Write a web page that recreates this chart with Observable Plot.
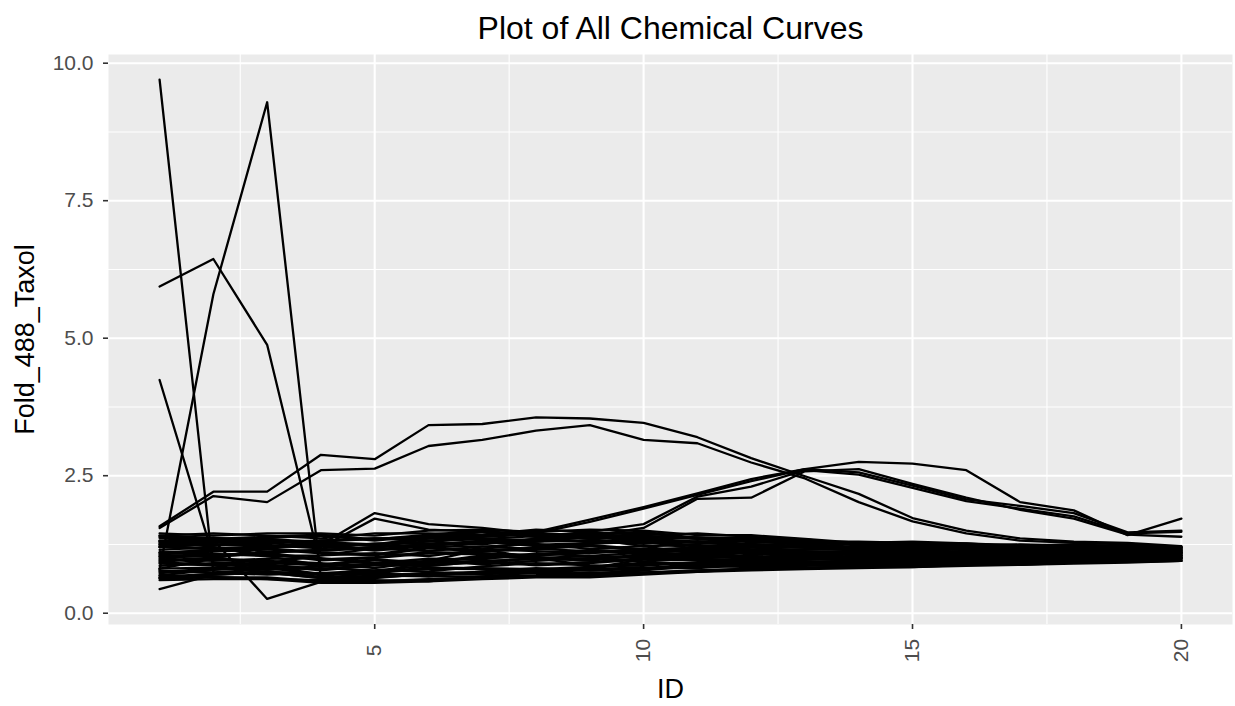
<!DOCTYPE html>
<html>
<head>
<meta charset="utf-8">
<script src="https://cdn.jsdelivr.net/npm/d3@7"></script>
<script src="https://cdn.jsdelivr.net/npm/@observablehq/plot@0.6"></script>
<style>
  html, body { margin: 0; padding: 0; background: white; }
</style>
</head>
<body>
<div id="chart"></div>
<script>
const ids = [1,2,3,4,5,6,7,8,9,10,11,12,13,14,15,16,17,18,19,20];
const xTicks = [5, 10, 15, 20];
const xMinor = [2.5, 7.5, 12.5, 17.5];
const yTicks = [0, 2.5, 5, 7.5, 10];
const yMinor = [1.25, 3.75, 6.25, 8.75];

// distinct curves
const chemA  = [9.70,0.74,0.80,0.85,0.90,0.92,0.95,0.98,1.00,1.02,1.00,1.02,1.05,1.03,1.05,1.04,1.06,1.05,1.07,1.06];
const chemB  = [0.79,5.80,9.29,0.62,0.65,0.70,0.72,0.75,0.78,0.80,0.85,0.90,0.92,0.95,0.96,0.98,1.00,1.00,1.02,1.02];
const chemC  = [5.94,6.44,4.88,0.85,0.90,0.95,1.00,1.05,1.10,1.12,1.15,1.15,1.12,1.10,1.12,1.10,1.12,1.10,1.12,1.10];
const chemD  = [4.24,1.02,1.10,1.15,1.20,1.25,1.28,1.30,1.32,1.30,1.28,1.25,1.22,1.20,1.18,1.17,1.16,1.15,1.14,1.13];
const chemV  = [1.20,1.33,0.26,0.57,0.58,0.62,0.65,0.68,0.70,0.74,0.78,0.80,0.82,0.84,0.86,0.88,0.90,0.92,0.94,0.96];
const chemL  = [0.44,0.70,0.75,0.72,0.70,0.72,0.75,0.78,0.80,0.82,0.85,0.88,0.90,0.92,0.94,0.95,0.96,0.97,0.98,1.00];
const chemE  = [1.58,2.21,2.21,2.88,2.80,3.42,3.44,3.56,3.54,3.46,3.20,2.82,2.49,2.17,1.73,1.50,1.36,1.30,1.28,1.22];
const chemF  = [1.55,2.13,2.02,2.60,2.63,3.04,3.15,3.32,3.42,3.15,3.09,2.74,2.45,2.02,1.67,1.45,1.32,1.28,1.25,1.20];
const chemG  = [1.30,1.35,1.30,1.32,1.35,1.40,1.42,1.48,1.70,1.93,2.18,2.44,2.62,2.75,2.72,2.60,2.02,1.87,1.42,1.72];
const chemH1 = [1.20,1.25,1.28,1.30,1.35,1.38,1.40,1.45,1.66,1.90,2.15,2.40,2.62,2.56,2.32,2.07,1.95,1.82,1.47,1.50];
const chemH2 = [1.10,1.15,1.20,1.22,1.25,1.30,1.35,1.40,1.48,1.62,2.12,2.30,2.60,2.52,2.28,2.04,1.90,1.76,1.45,1.48];
const chemH3 = [1.00,1.05,1.10,1.15,1.20,1.25,1.30,1.35,1.40,1.55,2.08,2.10,2.58,2.62,2.35,2.10,1.88,1.72,1.43,1.39];
const chemB1 = [1.30,1.32,1.35,1.25,1.82,1.62,1.55,1.45,1.42,1.40,1.38,1.35,1.30,1.28,1.27,1.25,1.24,1.22,1.20,1.18];
const chemB2 = [1.25,1.30,1.28,1.20,1.72,1.52,1.48,1.42,1.40,1.38,1.35,1.32,1.28,1.26,1.25,1.23,1.22,1.20,1.18,1.16];

// curves inside the dense band
const band00 = [0.60,0.62,0.62,0.55,0.55,0.58,0.62,0.65,0.65,0.70,0.75,0.78,0.80,0.82,0.84,0.86,0.88,0.90,0.92,0.95];
const band01 = [0.69,0.66,0.62,0.60,0.60,0.58,0.67,0.69,0.74,0.74,0.75,0.81,0.83,0.84,0.84,0.88,0.88,0.92,0.94,0.95];
const band02 = [0.64,0.70,0.74,0.64,0.64,0.72,0.71,0.74,0.69,0.78,0.86,0.84,0.86,0.89,0.89,0.90,0.92,0.95,0.95,0.98];
const band03 = [0.77,0.74,0.70,0.73,0.69,0.67,0.76,0.82,0.78,0.82,0.82,0.88,0.91,0.87,0.91,0.92,0.95,0.94,0.97,0.99];
const band04 = [0.73,0.79,0.83,0.69,0.73,0.81,0.80,0.78,0.82,0.90,0.89,0.91,0.88,0.92,0.93,0.96,0.94,0.97,0.98,1.00];
const band05 = [0.81,0.83,0.79,0.82,0.78,0.76,0.85,0.91,0.87,0.86,0.93,0.97,0.94,0.94,0.98,0.94,0.97,0.99,1.01,1.01];
const band06 = [0.90,0.87,0.87,0.78,0.87,0.86,0.94,0.87,0.91,0.98,0.96,0.94,0.99,0.96,0.96,0.98,1.01,1.01,1.00,1.03];
const band07 = [0.86,0.91,0.95,0.91,0.82,0.95,0.89,0.95,1.00,0.94,1.00,1.04,0.97,1.01,1.00,1.00,0.99,1.04,1.03,1.04];
const band08 = [0.94,0.99,0.91,0.87,0.96,0.90,1.03,1.00,0.95,1.06,1.03,1.00,1.05,0.99,1.02,1.04,1.03,1.02,1.04,1.06];
const band09 = [0.98,0.95,0.99,1.00,0.91,0.99,0.98,1.09,1.04,1.02,1.07,1.10,1.02,1.04,1.07,1.02,1.05,1.06,1.08,1.05];
const band10 = [1.03,1.04,1.08,0.96,1.00,1.09,1.07,1.04,1.13,1.10,1.14,1.07,1.08,1.08,1.05,1.07,1.08,1.08,1.06,1.08];
const band11 = [1.11,1.08,1.04,1.05,1.09,1.04,1.16,1.13,1.09,1.18,1.10,1.13,1.13,1.06,1.09,1.11,1.07,1.09,1.09,1.10];
const band12 = [1.07,1.12,1.16,1.09,1.05,1.18,1.12,1.17,1.22,1.14,1.17,1.20,1.10,1.11,1.14,1.09,1.10,1.13,1.11,1.09];
const band13 = [1.15,1.20,1.12,1.14,1.18,1.13,1.21,1.26,1.17,1.22,1.24,1.16,1.16,1.16,1.12,1.13,1.14,1.11,1.12,1.13];
const band14 = [1.20,1.16,1.20,1.23,1.14,1.22,1.30,1.22,1.26,1.30,1.21,1.23,1.21,1.13,1.16,1.17,1.12,1.15,1.14,1.11];
const band15 = [1.28,1.24,1.24,1.18,1.27,1.27,1.25,1.35,1.30,1.26,1.31,1.26,1.19,1.20,1.19,1.15,1.18,1.16,1.17,1.14];
const band16 = [1.24,1.28,1.33,1.27,1.23,1.36,1.34,1.30,1.39,1.34,1.28,1.32,1.24,1.18,1.23,1.19,1.16,1.20,1.15,1.15];
const band17 = [1.32,1.37,1.28,1.32,1.36,1.32,1.39,1.43,1.35,1.38,1.38,1.29,1.27,1.25,1.21,1.21,1.21,1.18,1.18,1.16];
const band18 = [1.37,1.33,1.37,1.41,1.32,1.41,1.48,1.39,1.43,1.46,1.35,1.36,1.32,1.23,1.25,1.25,1.19,1.22,1.20,1.18];
const band19 = [1.41,1.45,1.41,1.36,1.45,1.45,1.43,1.52,1.48,1.42,1.45,1.39,1.30,1.30,1.28,1.23,1.25,1.23,1.23,1.19];
const band20 = [1.45,1.41,1.45,1.45,1.41,1.50,1.52,1.48,1.52,1.50,1.42,1.42,1.35,1.28,1.30,1.27,1.23,1.25,1.21,1.20];
const mid00  = [0.63,0.65,0.65,0.58,0.58,0.61,0.65,0.68,0.68,0.73,0.78,0.81,0.83,0.85,0.87,0.89,0.91,0.93,0.95,0.98];
const mid02  = [0.66,0.72,0.76,0.66,0.66,0.74,0.73,0.76,0.71,0.80,0.88,0.86,0.88,0.91,0.91,0.92,0.94,0.97,0.97,1.00];
const mid04  = [0.75,0.81,0.85,0.71,0.75,0.83,0.82,0.80,0.84,0.92,0.91,0.93,0.90,0.94,0.95,0.98,0.96,0.99,1.00,1.02];
const mid06  = [0.92,0.89,0.89,0.80,0.89,0.88,0.96,0.89,0.93,1.00,0.98,0.96,1.01,0.98,0.98,1.00,1.03,1.03,1.02,1.05];
const mid08  = [0.96,1.01,0.93,0.89,0.98,0.92,1.05,1.02,0.97,1.08,1.05,1.02,1.07,1.01,1.04,1.06,1.05,1.04,1.06,1.08];
const mid10  = [1.05,1.06,1.10,0.98,1.02,1.11,1.09,1.06,1.15,1.12,1.16,1.09,1.10,1.10,1.07,1.09,1.10,1.10,1.08,1.10];
const mid12  = [1.09,1.14,1.18,1.11,1.07,1.20,1.14,1.19,1.24,1.16,1.19,1.22,1.12,1.13,1.16,1.11,1.12,1.15,1.13,1.11];
const mid14  = [1.22,1.18,1.22,1.25,1.16,1.24,1.32,1.24,1.28,1.32,1.23,1.25,1.23,1.15,1.18,1.19,1.14,1.17,1.16,1.13];
const mid16  = [1.26,1.30,1.35,1.29,1.25,1.38,1.36,1.32,1.41,1.36,1.30,1.34,1.26,1.20,1.25,1.21,1.18,1.22,1.17,1.17];
const mid18  = [1.39,1.35,1.39,1.43,1.34,1.43,1.50,1.41,1.45,1.48,1.37,1.38,1.34,1.25,1.27,1.27,1.21,1.24,1.22,1.20];
const cross1 = [1.41,1.37,1.33,1.27,1.23,1.22,1.21,1.17,1.13,1.10,1.07,1.04,0.99,0.96,0.96,0.94,0.94,0.94,0.94,0.95];
const cross2 = [0.64,0.70,0.74,0.73,0.78,0.86,0.94,1.00,1.04,1.10,1.14,1.16,1.16,1.16,1.19,1.19,1.19,1.22,1.21,1.20];
const cross3 = [1.03,0.87,0.74,0.64,0.73,0.95,1.16,1.30,1.39,1.30,1.17,1.00,0.94,0.89,0.89,0.94,1.01,1.06,1.11,1.13];
const cross4 = [0.81,0.99,1.20,1.32,1.36,1.32,1.16,1.00,0.87,0.82,0.89,0.97,1.05,1.08,1.16,1.17,1.12,1.09,1.06,1.05];
const cross5 = [1.32,1.20,1.04,0.87,0.73,0.67,0.67,0.74,0.82,0.98,1.10,1.20,1.21,1.20,1.23,1.21,1.18,1.15,1.11,1.09];
const cross6 = [0.69,0.79,0.91,1.05,1.18,1.36,1.48,1.39,1.35,1.22,1.07,0.97,0.91,0.89,0.96,1.00,1.05,1.04,1.01,1.01];

const curves = [
  band00, band01, band02, band03, band04, band05, band06, band07, band08, band09, band10,
  band11, band12, band13, band14, band15, band16, band17, band18, band19, band20,
  mid00, mid02, mid04, mid06, mid08, mid10, mid12, mid14, mid16, mid18,
  cross1, cross2, cross3, cross4, cross5, cross6,
  chemA, chemB, chemC, chemD, chemV, chemL, chemE, chemF, chemG, chemH1, chemH2, chemH3, chemB1, chemB2
];

const rows = curves.flatMap((vals, k) => vals.map((v, i) => ({chem: k, id: ids[i], value: v})));

const font = "'Liberation Sans', Arial, sans-serif";

const chart = Plot.plot({
  width: 1235,
  height: 706,
  marginLeft: 108,
  marginRight: 3,
  marginTop: 54,
  marginBottom: 82,
  x: {domain: [0.05, 20.95]},
  y: {domain: [-0.205, 10.158]},
  style: {fontFamily: font, background: "white", overflow: "visible"},
  marks: [
    Plot.frame({fill: "#EBEBEB", stroke: null}),
    Plot.gridX(xMinor, {stroke: "white", strokeOpacity: 1, strokeWidth: 1.1}),
    Plot.gridY(yMinor, {stroke: "white", strokeOpacity: 1, strokeWidth: 1.1}),
    Plot.gridX(xTicks, {stroke: "white", strokeOpacity: 1, strokeWidth: 2.1}),
    Plot.gridY(yTicks, {stroke: "white", strokeOpacity: 1, strokeWidth: 2.1}),
    Plot.line(rows, {x: "id", y: "value", z: "chem", stroke: "black", strokeWidth: 2.3}),
    Plot.axisY(yTicks, {tickSize: 5, tickPadding: 10, fontSize: 21, stroke: "#333333", strokeWidth: 1.6, fill: "#4D4D4D", tickFormat: d => d.toFixed(1), label: null}),
    Plot.axisX(xTicks, {tickSize: 5, stroke: "#333333", strokeWidth: 1.6, tickFormat: () => "", label: null}),
    Plot.text(xTicks, {x: d => d, text: d => String(d), frameAnchor: "bottom", dy: 26, rotate: -90, textAnchor: "middle", lineAnchor: "middle", fontSize: 21, fill: "#4D4D4D"}),
    Plot.text(["Plot of All Chemical Curves"], {text: d => d, frameAnchor: "top", dy: -26, textAnchor: "middle", lineAnchor: "middle", fontSize: 32, fill: "black"}),
    Plot.text(["Fold_488_Taxol"], {text: d => d, frameAnchor: "left", dx: -83, rotate: -90, textAnchor: "middle", lineAnchor: "middle", fontSize: 27, fill: "black"}),
    Plot.text(["ID"], {text: d => d, frameAnchor: "bottom", dy: 65, textAnchor: "middle", lineAnchor: "middle", fontSize: 27, fill: "black"})
  ]
});

document.getElementById("chart").appendChild(chart);
</script>
</body>
</html>
